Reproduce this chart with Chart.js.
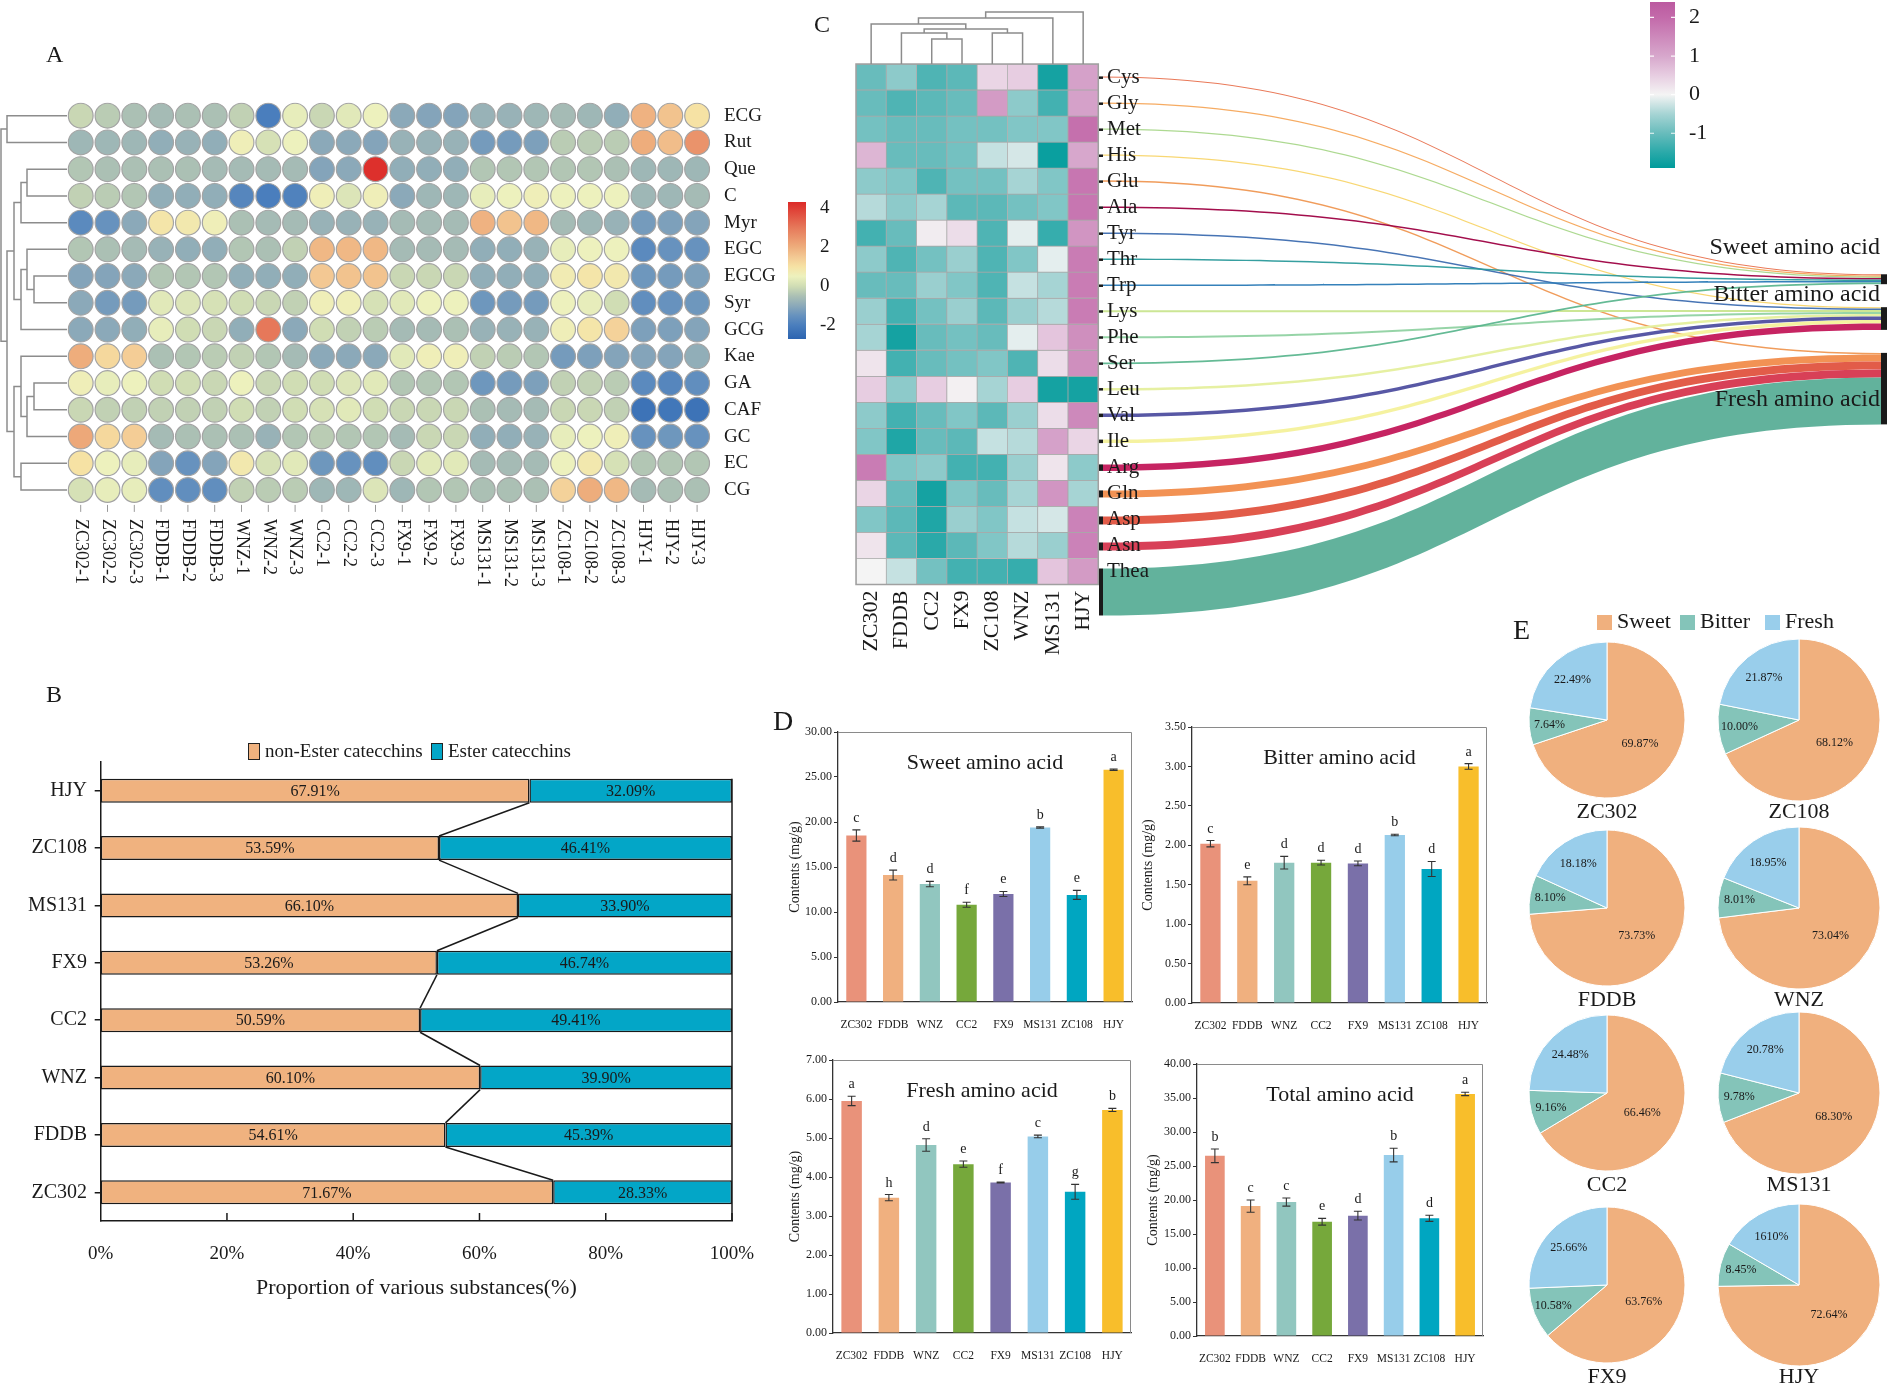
<!DOCTYPE html>
<html>
<head>
<meta charset="utf-8">
<title>Catechins and amino acids of eight tea cultivars</title>
<script src="https://cdn.jsdelivr.net/npm/chart.js@4.4.1/dist/chart.umd.min.js"></script>
<style>
  body { margin: 0; background: #fff; }
  #page { position: relative; width: 1887px; height: 1387px; overflow: hidden; background: #fff;
          font-family: 'Liberation Serif', 'Times New Roman', serif; color: #1a1a1a; }
  #page canvas { position: absolute; }
  .txt { position: absolute; white-space: nowrap; line-height: 1; }
  .key { position: absolute; box-sizing: border-box; }
</style>
</head>
<body>
<div id="page"></div>
<script>
// ---------- Panel A: catechins / flavonols (z-score per sample) ----------
const catechinSamples = ['ZC302-1', 'ZC302-2', 'ZC302-3', 'FDDB-1', 'FDDB-2', 'FDDB-3', 'WNZ-1', 'WNZ-2', 'WNZ-3',
    'CC2-1', 'CC2-2', 'CC2-3', 'FX9-1', 'FX9-2', 'FX9-3', 'MS131-1', 'MS131-2', 'MS131-3',
    'ZC108-1', 'ZC108-2', 'ZC108-3', 'HJY-1', 'HJY-2', 'HJY-3'];
const catechinNames = ['ECG', 'Rut', 'Que', 'C', 'Myr', 'EGC', 'EGCG', 'Syr', 'GCG', 'Kae', 'GA', 'CAF', 'GC', 'EC', 'CG'];
const zECG  = [-0.1, -0.3, -0.5, -0.6, -0.5, -0.5, -0.2, -2.0, 0.4, -0.1, 0.3, 0.5, -1.0, -1.1, -1.1, -0.8, -0.8, -0.7, -0.6, -0.7, -0.9, 1.9, 1.6, 1.0];
const zRut  = [-0.7, -0.7, -0.7, -0.9, -0.8, -0.9, 0.6, 0.1, 0.5, -1.0, -1.0, -1.1, -0.8, -0.8, -0.8, -1.3, -1.3, -1.2, -0.3, -0.3, -0.3, 2.0, 1.7, 2.5];
const zQue  = [-0.4, -0.5, -0.5, -0.5, -0.5, -0.6, -0.6, -0.6, -0.6, -1.1, -1.0, 4.2, -0.9, -0.9, -0.9, -0.4, -0.4, -0.4, -0.4, -0.4, -0.5, -0.7, -0.7, -0.7];
const zC    = [-0.2, -0.3, -0.4, -0.9, -0.9, -0.9, -1.8, -2.0, -1.9, 0.6, 0.2, 0.6, -1.0, -0.7, -0.7, 0.4, 0.5, 0.6, 0.5, 0.5, 0.5, -0.7, -0.7, -0.6];
const zMyr  = [-1.7, -1.5, -1.0, 0.9, 0.8, 0.6, -0.5, -0.6, -0.6, -0.8, -0.8, -0.8, -0.6, -0.6, -0.6, 1.9, 1.6, 1.8, -0.6, -0.7, -0.8, -1.3, -1.2, -1.1];
const zEGC  = [-0.4, -0.5, -0.6, -0.8, -0.9, -0.9, -0.4, -0.5, -0.2, 1.8, 1.8, 1.8, -0.6, -0.6, -0.6, -0.9, -0.9, -0.8, 0.4, 0.5, 0.5, -1.7, -1.5, -1.5];
const zEGCG = [-1.1, -1.1, -1.0, -0.4, -0.4, -0.4, -0.9, -0.9, -0.9, 1.5, 1.6, 1.6, -0.1, -0.1, -0.1, -0.9, -0.9, -0.9, 0.7, 0.9, 0.8, -1.4, -1.3, -1.2];
const zSyr  = [-1.0, -1.3, -1.3, 0.3, 0.2, 0.1, 0.0, -0.1, -0.2, 0.6, 0.6, 0.1, 0.3, 0.5, 0.5, -1.4, -1.3, -1.3, 0.5, 0.4, 0.0, -1.6, -1.5, -1.4];
const zGCG  = [-1.0, -1.0, -0.9, 0.4, 0.0, -0.1, -0.9, 3.0, -1.0, 0.0, -0.2, -0.3, -0.6, -0.6, -0.5, -0.8, -0.8, -0.8, 0.6, 0.9, 1.3, -1.2, -1.2, -1.1];
const zKae  = [2.0, 1.2, 1.4, -0.5, -0.4, -0.3, -0.2, -0.4, -0.6, -1.0, -1.0, -1.0, 0.3, 0.6, 0.6, -0.2, -0.3, -0.4, -1.3, -1.2, -1.1, -1.1, -1.1, -0.9];
const zGA   = [0.6, 0.4, 0.5, 0.0, 0.0, -0.1, 0.5, -0.1, 0.0, 0.0, 0.2, 0.3, -0.4, -0.4, -0.4, -1.4, -1.3, -1.2, -0.2, -0.2, -0.3, -1.7, -1.8, -1.6];
const zCAF  = [-0.1, -0.2, -0.2, -0.2, -0.2, -0.2, 0.0, -0.2, 0.0, 0.1, 0.3, 0.0, -0.1, -0.1, -0.1, -0.5, -0.6, -0.6, -0.1, -0.1, -0.2, -2.3, -2.2, -2.3];
const zGC   = [2.1, 1.2, 1.4, -0.6, -0.5, -0.5, -0.5, -0.8, -0.4, -0.3, -0.4, -0.4, -0.6, -0.1, -0.1, -0.9, -0.9, -0.8, 0.4, 0.5, 0.6, -1.5, -1.4, -1.5];
const zEC   = [1.0, 0.5, 0.4, -1.1, -1.5, -1.1, 0.8, 0.1, 0.3, -1.4, -1.5, -1.6, -0.1, 0.3, 0.3, -0.6, -0.6, -0.6, 0.5, 0.8, 0.1, -0.4, -0.4, -0.4];
const zCG   = [0.1, 0.4, 0.4, -1.6, -1.6, -1.6, -0.2, -0.3, -0.3, -0.7, -0.7, 0.2, -0.7, -0.4, -0.4, -0.5, -0.5, -0.5, 1.3, 2.0, 1.8, -0.6, -0.5, -0.5];
// row clustering: [child, child, height]; leaves are 0..14, new nodes numbered from 15
const catechinTree = [[0, 1, 60], [2, 3, 40], [16, 4, 46], [6, 7, 33], [5, 18, 40], [19, 8, 46], [17, 20, 53],
    [10, 11, 33], [22, 12, 40], [9, 23, 46], [13, 14, 46], [24, 25, 53], [21, 26, 60], [15, 27, 66]];
const colorbarTicksA = [-2, 0, 2, 4];

// ---------- Panel B: ester / non-ester catechin share ----------
const catechinCultivars = ['HJY', 'ZC108', 'MS131', 'FX9', 'CC2', 'WNZ', 'FDDB', 'ZC302'];
const nonEsterPct = [67.91, 53.59, 66.10, 53.26, 50.59, 60.10, 54.61, 71.67];
const esterPct = [32.09, 46.41, 33.90, 46.74, 49.41, 39.90, 45.39, 28.33];

// ---------- Panel C: amino acid heatmap (z-score) + taste sankey ----------
const aminoAcids = ['Cys', 'Gly', 'Met', 'His', 'Glu', 'Ala', 'Tyr', 'Thr', 'Trp', 'Lys', 'Phe', 'Ser', 'Leu', 'Val', 'Ile', 'Arg', 'Gln', 'Asp', 'Asn', 'Thea'];
const cultivarsC = ['ZC302', 'FDDB', 'CC2', 'FX9', 'ZC108', 'WNZ', 'MS131', 'HJY'];
const hmZC302 = [-1.0, -1.0, -0.9, 0.8, -0.7, -0.4, -1.3, -0.7, -1.0, -0.6, -0.5, 0.2, 0.5, -0.7, -0.8, 1.7, 0.4, -0.8, 0.2, 0.0];
const hmFDDB  = [-0.7, -1.2, -1.0, -1.0, -0.8, -0.7, -1.0, -1.2, -1.0, -1.3, -1.7, -1.3, -0.7, -1.3, -1.6, -0.8, -1.0, -1.1, -1.1, -0.3];
const hmCC2   = [-1.2, -1.1, -1.0, -1.0, -1.2, -0.5, 0.1, -0.9, -0.6, -0.9, -1.0, -1.0, 0.5, -1.0, -1.0, -0.7, -1.7, -1.6, -1.5, -0.9];
const hmFX9   = [-1.1, -1.0, -0.9, -0.9, -0.9, -1.1, 0.3, -0.6, -0.8, -0.6, -0.9, -0.9, 0.05, -0.8, -1.1, -1.3, -0.8, -0.6, -1.1, -1.3];
const hmZC108 = [0.4, 1.2, -0.9, -0.3, -0.9, -1.1, -1.2, -1.2, -1.2, -1.1, -1.0, -0.8, -0.5, -1.1, -0.3, -1.3, -1.0, -0.8, -0.8, -1.3];
const hmWNZ   = [0.5, -0.7, -0.8, -0.2, -0.5, -0.9, -0.1, -0.8, -0.3, -0.6, -0.1, -1.2, 0.5, -0.6, -0.4, -0.6, -0.5, -0.3, -0.4, -1.4];
const hmMS131 = [-1.7, -1.3, -0.8, -1.8, -0.8, -0.8, -1.4, -0.1, -0.5, -0.4, 0.6, 0.3, -1.7, 0.3, 1.1, 0.2, 1.3, -0.2, -0.6, 0.6];
const hmHJY   = [1.1, 1.1, 1.9, 1.0, 1.8, 1.8, 1.3, 1.7, 1.7, 1.7, 1.4, 1.4, -1.7, 1.5, 0.4, -0.7, -0.5, 1.6, 1.6, 1.2];
// column clustering: leaves 0..7, new nodes from 8
const cultivarTree = [[2, 3, 25], [1, 8, 31], [4, 5, 31], [9, 10, 35], [0, 11, 40], [12, 6, 46], [13, 7, 52]];
const colorbarTicksC = [-1, 0, 1, 2];
const tasteGroups = ['Sweet', 'Bitter', 'Fresh'];
const aaTaste = ['Sweet', 'Sweet', 'Sweet', 'Bitter', 'Fresh', 'Sweet', 'Bitter', 'Sweet', 'Sweet', 'Bitter',
    'Bitter', 'Sweet', 'Bitter', 'Bitter', 'Bitter', 'Bitter', 'Fresh', 'Fresh', 'Fresh', 'Fresh'];
const aaFlow = [1.2, 1.2, 1.2, 1.2, 1.5, 1.5, 1.5, 1.5, 1.5, 2, 2, 1.8, 2.5, 3.5, 3.5, 6.5, 7, 8, 8, 47];

// ---------- Panel D: taste amino acid contents (mg/g) ----------
const cultivarsD = ['ZC302', 'FDDB', 'WNZ', 'CC2', 'FX9', 'MS131', 'ZC108', 'HJY'];
const sweetMean = [18.5, 14.1, 13.1, 10.8, 12.0, 19.4, 11.9, 25.8];
const sweetErr = [0.63, 0.55, 0.3, 0.28, 0.28, 0.08, 0.5, 0.08];
const sweetSig = ['c', 'd', 'd', 'f', 'e', 'b', 'e', 'a'];
const bitterMean = [2.02, 1.55, 1.78, 1.78, 1.77, 2.13, 1.70, 3.00];
const bitterErr = [0.04, 0.05, 0.08, 0.03, 0.03, 0.01, 0.095, 0.035];
const bitterSig = ['c', 'e', 'd', 'd', 'd', 'b', 'd', 'a'];
const freshMean = [5.95, 3.47, 4.82, 4.33, 3.86, 5.04, 3.62, 5.72];
const freshErr = [0.12, 0.08, 0.16, 0.08, 0.01, 0.035, 0.19, 0.04];
const freshSig = ['a', 'h', 'd', 'e', 'f', 'c', 'g', 'b'];
const totalMean = [26.5, 19.1, 19.7, 16.8, 17.7, 26.6, 17.3, 35.6];
const totalErr = [1.0, 0.9, 0.6, 0.5, 0.65, 1.0, 0.45, 0.25];
const totalSig = ['b', 'c', 'c', 'e', 'd', 'b', 'd', 'a'];

// ---------- Panel E: taste composition (%) ----------
const pieCultivars = ['ZC302', 'ZC108', 'FDDB', 'WNZ', 'CC2', 'MS131', 'FX9', 'HJY'];
const pieSweet = [69.87, 68.12, 73.73, 73.04, 66.46, 68.30, 63.76, 72.64];
const pieBitter = [7.64, 10.00, 8.10, 8.01, 9.16, 9.78, 10.58, 8.45];
const pieFresh = [22.49, 21.87, 18.18, 18.95, 24.48, 20.78, 25.66, 16.10];

// ---------- styles ----------
const SERIF = "'Liberation Serif', 'Times New Roman', serif";
const INK = '#1a1a1a';
const rampA = [[-2.7, '#2c64b0'], [-2.0, '#4a7ebd'], [-1.5, '#6792be'], [-1.0, '#8ba9b9'], [-0.5, '#abc0b4'],
    [0.0, '#d0ddb4'], [0.5, '#edf1bd'], [1.0, '#f6e2a4'], [1.5, '#f3c893'], [2.0, '#eead7c'],
    [3.0, '#e6785a'], [4.3, '#dc2a28']];
const rampC = [[-1.9, '#009b9b'], [-1.5, '#2aa9a9'], [-1.0, '#68bcbc'], [-0.5, '#a6d4d4'], [0.0, '#f4f4f4'],
    [0.5, '#e7cde1'], [1.0, '#d7a7cc'], [2.0, '#c36aaa'], [2.4, '#bb5aa0']];
const aaColors = ['#e8714e', '#f6a75a', '#a9d78b', '#f8d56b', '#ef9752', '#9e0142', '#3d6db0', '#2b9a9b', '#2a7ab6', '#c9e58f',
    '#90d2a2', '#5cb68f', '#e5ef9d', '#4f4fa0', '#f4f19b', '#c3185a', '#f18c4b', '#e0533f', '#d6364e', '#5aae97'];
const barColorsD = ['#e9927a', '#f0b07f', '#91c6bf', '#76a83b', '#7a70a9', '#97cdea', '#00a6c1', '#f8be2b'];
const tasteColors = ['#f0b07e', '#84c4b9', '#99ceeb'];
const esterColors = ['#f0b27f', '#03a6c7'];

Chart.defaults.font.family = SERIF;
Chart.defaults.color = INK;

const page = document.getElementById('page');

function addText(text, left, top, size) {
    const d = document.createElement('div');
    d.className = 'txt';
    d.textContent = text;
    d.style.left = left + 'px';
    d.style.top = top + 'px';
    d.style.fontSize = size + 'px';
    page.appendChild(d);
}

function addKey(left, top, w, h, color, border) {
    const d = document.createElement('div');
    d.className = 'key';
    d.style.cssText += `left:${left}px;top:${top}px;width:${w}px;height:${h}px;background:${color};` +
        (border ? 'border:1px solid #222;' : '');
    page.appendChild(d);
}

function makeCanvas(left, top, width, height) {
    const c = document.createElement('canvas');
    c.width = width;
    c.height = height;
    c.style.left = left + 'px';
    c.style.top = top + 'px';
    c.style.width = width + 'px';
    c.style.height = height + 'px';
    page.appendChild(c);
    return c;
}

function baseOptions(padding) {
    return {
        responsive: false,
        animation: false,
        events: [],
        layout: { padding },
        plugins: { legend: { display: false }, tooltip: { enabled: false } }
    };
}

function hexToRgb(h) {
    const n = parseInt(h.slice(1), 16);
    return [(n >> 16) & 255, (n >> 8) & 255, n & 255];
}

function rampColor(stops, v) {
    if (v <= stops[0][0]) return stops[0][1];
    for (let i = 1; i < stops.length; i++) {
        if (v <= stops[i][0]) {
            const [v0, c0] = stops[i - 1];
            const [v1, c1] = stops[i];
            const t = (v - v0) / (v1 - v0);
            const a = hexToRgb(c0), b = hexToRgb(c1);
            return `rgb(${a.map((q, k) => Math.round(q + (b[k] - q) * t)).join(',')})`;
        }
    }
    return stops[stops.length - 1][1];
}

function gradientFor(chart, stops, min, max) {
    const { ctx, chartArea, scales } = chart;
    if (!chartArea) return null;
    const g = ctx.createLinearGradient(0, scales.y.getPixelForValue(min), 0, scales.y.getPixelForValue(max));
    stops.forEach(([v, c]) => {
        const t = (v - min) / (max - min);
        if (t >= 0 && t <= 1) g.addColorStop(t, c);
    });
    return g;
}

// U-shaped links of a dendrogram, positions in leaf units
function dendroLinks(tree, nLeaves) {
    const pos = [], hgt = [];
    for (let i = 0; i < nLeaves; i++) { pos[i] = i; hgt[i] = 0; }
    return tree.map(([a, b, h], k) => {
        const id = nLeaves + k;
        pos[id] = (pos[a] + pos[b]) / 2;
        hgt[id] = h;
        return [{ p: pos[a], h: hgt[a] }, { p: pos[a], h }, { p: pos[b], h }, { p: pos[b], h: hgt[b] }];
    });
}

function lineSets(links, toXY) {
    return links.map(pts => ({
        data: pts.map(toXY),
        showLine: true,
        borderColor: '#8c8c8c',
        borderWidth: 1.5,
        pointRadius: 0,
        fill: false
    }));
}

// the scale's own label padding is dropped so the bar fills the padded area exactly
function makeColorbar(canvas, stops, min, max, ticks, padding, axisW, size, tickMarks) {
    return new Chart(canvas, {
        type: 'bar',
        data: {
            labels: [''],
            datasets: [{
                data: [[min, max]],
                backgroundColor: c => gradientFor(c.chart, stops, min, max),
                borderWidth: 0,
                barPercentage: 1,
                categoryPercentage: 1
            }]
        },
        options: {
            ...baseOptions(padding),
            scales: {
                x: { display: false },
                y: {
                    position: 'right', min, max,
                    afterFit: s => { s.width = axisW; s.paddingTop = 0; s.paddingBottom = 0; },
                    afterBuildTicks: s => { s.ticks = ticks.map(v => ({ value: v })); },
                    grid: { display: false },
                    border: { display: false },
                    ticks: { font: { size }, color: INK, padding: 6 }
                }
            }
        },
        plugins: [{
            id: 'cbTicks',
            afterDatasetsDraw(chart) {
                if (!tickMarks) return;
                const { ctx, chartArea: a, scales: { y } } = chart;
                ctx.save();
                ctx.strokeStyle = 'rgba(255,255,255,0.9)';
                ctx.lineWidth = 1.2;
                ticks.forEach(v => {
                    const py = y.getPixelForValue(v);
                    ctx.beginPath();
                    ctx.moveTo(a.left, py); ctx.lineTo(a.left + 4, py);
                    ctx.moveTo(a.right - 4, py); ctx.lineTo(a.right, py);
                    ctx.stroke();
                });
                ctx.restore();
            }
        }]
    });
}

// ================= Panel A =================
const catechinZ = [zECG, zRut, zQue, zC, zMyr, zEGC, zEGCG, zSyr, zGCG, zKae, zGA, zCAF, zGC, zEC, zCG];
const bubblePoints = [];
catechinZ.forEach((row, r) => row.forEach((v, col) => bubblePoints.push({ x: col, y: r, v })));

new Chart(makeCanvas(0, 60, 800, 560), {
    type: 'bubble',
    data: {
        datasets: [{
            data: bubblePoints,
            radius: 12.4,
            backgroundColor: c => rampColor(rampA, c.raw.v),
            borderColor: '#a4a4a4',
            borderWidth: 1.2
        }]
    },
    options: {
        ...baseOptions({ left: 67.3, right: 89.5, top: 42.3, bottom: 116.6 }),
        scales: {
            x: { type: 'linear', min: -0.5, max: 23.5, display: false },
            y: { type: 'linear', min: -0.5, max: 14.5, reverse: true, display: false }
        }
    },
    plugins: [{
        id: 'labelsA',
        afterDatasetsDraw(chart) {
            const { ctx, chartArea: a, scales: { x, y } } = chart;
            ctx.save();
            ctx.fillStyle = INK;
            ctx.font = `19px ${SERIF}`;
            ctx.textAlign = 'left';
            ctx.textBaseline = 'middle';
            catechinNames.forEach((n, r) => ctx.fillText(n, a.right + 13.5, y.getPixelForValue(r)));
            ctx.strokeStyle = '#9a9a9a';
            ctx.lineWidth = 1;
            ctx.font = `18px ${SERIF}`;
            catechinSamples.forEach((s, i) => {
                const px = x.getPixelForValue(i);
                ctx.beginPath();
                ctx.moveTo(px, a.bottom + 1.5);
                ctx.lineTo(px, a.bottom + 8.5);
                ctx.stroke();
                ctx.save();
                ctx.translate(px, a.bottom + 15.5);
                ctx.rotate(Math.PI / 2);
                ctx.fillText(s, 0, 0);
                ctx.restore();
            });
            ctx.restore();
        }
    }]
});

new Chart(makeCanvas(0, 60, 68, 560), {
    type: 'scatter',
    data: { datasets: lineSets(dendroLinks(catechinTree, catechinNames.length), q => ({ x: q.h, y: q.p })) },
    options: {
        ...baseOptions({ left: 0, right: 1, top: 42.3, bottom: 116.6 }),
        scales: {
            x: { type: 'linear', min: 0, max: 67, reverse: true, display: false },
            y: { type: 'linear', min: -0.5, max: 14.5, reverse: true, display: false }
        }
    }
});

makeColorbar(makeCanvas(788, 182, 50, 177), rampA, -2.7, 4.3, colorbarTicksA,
    { top: 20, bottom: 20, left: 0, right: 0 }, 32, 19, false);

// ================= Panel B =================
new Chart(makeCanvas(0, 740, 770, 585), {
    type: 'bar',
    data: {
        labels: catechinCultivars,
        datasets: [
            { label: 'non-Ester catecchins', data: nonEsterPct },
            { label: 'Ester catecchins', data: esterPct }
        ].map((d, k) => ({
            ...d,
            backgroundColor: esterColors[k],
            borderColor: INK,
            borderWidth: 1.5,
            borderSkipped: false,
            barPercentage: 0.42,
            categoryPercentage: 1
        }))
    },
    options: {
        ...baseOptions({ top: 22, right: 38, left: 0, bottom: 0 }),
        indexAxis: 'y',
        scales: {
            x: {
                stacked: true, min: 0, max: 100,
                ticks: { stepSize: 20, callback: v => v + '%', font: { size: 19 }, color: INK, padding: 14 },
                grid: { display: false },
                border: { display: true, color: INK, width: 1.5 },
                title: { display: true, text: 'Proportion of various substances(%)', font: { size: 22 }, color: INK, padding: { top: 0, bottom: 24 } },
                afterFit: s => { s.height = 104; }
            },
            y: {
                stacked: true,
                ticks: { font: { size: 20 }, color: INK, padding: 7.7 },
                grid: { display: true, drawOnChartArea: false, drawTicks: true, tickLength: 6, offset: false, color: INK, lineWidth: 1.5 },
                border: { display: true, color: INK, width: 1.5 },
                afterFit: s => { s.width = 100.7; }
            }
        }
    },
    plugins: [{
        id: 'bExtras',
        afterDatasetsDraw(chart) {
            const { ctx, chartArea: a, scales: { x } } = chart;
            const m0 = chart.getDatasetMeta(0).data;
            const m1 = chart.getDatasetMeta(1).data;
            ctx.save();
            ctx.strokeStyle = INK;
            ctx.lineWidth = 1.5;
            for (let i = 0; i < m0.length - 1; i++) {
                const b = m0[i], n = m0[i + 1];
                ctx.beginPath();
                ctx.moveTo(b.x, b.y + b.height / 2);
                ctx.lineTo(n.x, n.y - n.height / 2);
                ctx.stroke();
            }
            const xr = x.getPixelForValue(100);
            ctx.beginPath();
            ctx.moveTo(xr, m0[0].y - m0[0].height / 2);
            ctx.lineTo(xr, a.bottom);
            ctx.stroke();
            [20, 40, 60, 80, 100].forEach(v => {
                const px = x.getPixelForValue(v);
                ctx.beginPath();
                ctx.moveTo(px, a.bottom);
                ctx.lineTo(px, a.bottom - 8);
                ctx.stroke();
            });
            ctx.fillStyle = INK;
            ctx.font = `16px ${SERIF}`;
            ctx.textAlign = 'center';
            ctx.textBaseline = 'middle';
            [[m0, nonEsterPct], [m1, esterPct]].forEach(([meta, vals]) => {
                meta.forEach((el, i) => ctx.fillText(vals[i].toFixed(2) + '%', (el.x + el.base) / 2, el.y + 1));
            });
            ctx.restore();
        }
    }]
});

addKey(248, 743, 12, 17, esterColors[0], true);
addText('non-Ester catecchins', 265, 741, 19);
addKey(431, 743, 12, 17, esterColors[1], true);
addText('Ester catecchins', 448, 741, 19);

// ================= Panel C =================
const hmColumns = [hmZC302, hmFDDB, hmCC2, hmFX9, hmZC108, hmWNZ, hmMS131, hmHJY];

new Chart(makeCanvas(840, 0, 270, 690), {
    type: 'bar',
    data: {
        labels: cultivarsC,
        datasets: aminoAcids.map((aa, r) => ({
            label: aa,
            data: cultivarsC.map(() => 1),
            backgroundColor: hmColumns.map(col => rampColor(rampC, col[r])),
            borderColor: '#a9a9a9',
            borderWidth: 0.75,
            borderSkipped: false,
            barPercentage: 1,
            categoryPercentage: 1
        }))
    },
    options: {
        ...baseOptions({ left: 16, right: 11.7, top: 64, bottom: 105.5 }),
        scales: {
            x: { stacked: true, display: false },
            y: { stacked: true, min: 0, max: 20, reverse: true, display: false }
        }
    },
    plugins: [{
        id: 'labelsC',
        afterDatasetsDraw(chart) {
            const { ctx, chartArea: a, scales: { x } } = chart;
            ctx.save();
            ctx.strokeStyle = '#a0a0a0';
            ctx.lineWidth = 1.5;
            ctx.strokeRect(a.left, a.top, a.right - a.left, a.bottom - a.top);
            ctx.fillStyle = INK;
            ctx.font = `22px ${SERIF}`;
            ctx.textAlign = 'right';
            ctx.textBaseline = 'middle';
            cultivarsC.forEach((c, i) => {
                ctx.save();
                ctx.translate(x.getPixelForValue(i), a.bottom + 6);
                ctx.rotate(-Math.PI / 2);
                ctx.fillText(c, 0, 0);
                ctx.restore();
            });
            ctx.restore();
        }
    }]
});

new Chart(makeCanvas(840, 0, 270, 66), {
    type: 'scatter',
    data: { datasets: lineSets(dendroLinks(cultivarTree, cultivarsC.length), q => ({ x: q.p, y: q.h })) },
    options: {
        ...baseOptions({ left: 16, right: 11.7, top: 0, bottom: 2 }),
        scales: {
            x: { type: 'linear', min: -0.5, max: 7.5, display: false },
            y: { type: 'linear', min: 0, max: 64, display: false }
        }
    }
});

// sankey: rows share the heatmap y scale, right column stacks the three taste groups
const sankeyRightTop = 8.08;   // in heatmap row units
const sankeyGap = 23;          // px between taste nodes
const groupLabelDy = [-27, -12, 47];
new Chart(makeCanvas(1098, 0, 789, 690), {
    type: 'scatter',
    data: { datasets: [{ data: [] }] },
    options: {
        ...baseOptions({ left: 5, right: 6, top: 64, bottom: 105.5 }),
        scales: {
            x: { type: 'linear', min: 0, max: 1, display: false },
            y: { type: 'linear', min: 0, max: 20, reverse: true, display: false }
        }
    },
    plugins: [{
        id: 'sankey',
        afterDatasetsDraw(chart) {
            const { ctx, scales: { x, y } } = chart;
            const xl = x.getPixelForValue(0), xr = x.getPixelForValue(1), xm = (xl + xr) / 2;
            const totals = tasteGroups.map(g => aaFlow.reduce((s, w, i) => s + (aaTaste[i] === g ? w : 0), 0));
            const tops = [];
            let cur = y.getPixelForValue(sankeyRightTop);
            totals.forEach((t, g) => { tops[g] = cur; cur += t + sankeyGap; });
            const fillTo = tops.slice();
            ctx.save();
            aminoAcids.forEach((aa, i) => {
                const w = aaFlow[i];
                const g = tasteGroups.indexOf(aaTaste[i]);
                const yc = y.getPixelForValue(i + 0.5);
                const l0 = yc - Math.min(w, 6) / 2, l1 = l0 + w;
                const r0 = fillTo[g], r1 = r0 + w;
                fillTo[g] = r1;
                ctx.globalAlpha = 0.95;
                ctx.fillStyle = aaColors[i];
                ctx.beginPath();
                ctx.moveTo(xl, l0);
                ctx.bezierCurveTo(xm, l0, xm, r0, xr, r0);
                ctx.lineTo(xr, r1);
                ctx.bezierCurveTo(xm, r1, xm, l1, xl, l1);
                ctx.closePath();
                ctx.fill();
                ctx.globalAlpha = 1;
                ctx.fillStyle = INK;
                ctx.fillRect(xl - 4, l0, 4, Math.max(w, 2.5));
            });
            ctx.fillStyle = INK;
            tops.forEach((t, g) => ctx.fillRect(xr, t, 6, totals[g]));
            ctx.font = `21px ${SERIF}`;
            ctx.textAlign = 'left';
            ctx.textBaseline = 'middle';
            aminoAcids.forEach((aa, i) => ctx.fillText(aa, xl + 4, y.getPixelForValue(i + 0.5)));
            ctx.font = `24px ${SERIF}`;
            ctx.textAlign = 'right';
            tasteGroups.forEach((g, k) => ctx.fillText(g + ' amino acid', xr - 1, tops[k] + groupLabelDy[k]));
            ctx.restore();
        }
    }]
});

makeColorbar(makeCanvas(1650, 0, 60, 172), rampC, -1.9, 2.4, colorbarTicksC,
    { top: 2, bottom: 4, left: 0, right: 0 }, 35, 22, true);

// ================= Panel D =================
function aminoPlugin(title, means, errs, sig) {
    return {
        id: 'aminoExtras',
        afterDatasetsDraw(chart) {
            const { ctx, chartArea: a, scales: { y } } = chart;
            const bars = chart.getDatasetMeta(0).data;
            ctx.save();
            ctx.strokeStyle = '#8a8a8a';
            ctx.lineWidth = 1;
            ctx.beginPath();
            ctx.moveTo(a.left, a.top + 0.5);
            ctx.lineTo(a.right - 0.5, a.top + 0.5);
            ctx.lineTo(a.right - 0.5, a.bottom);
            ctx.stroke();
            ctx.strokeStyle = '#333';
            ctx.lineWidth = 1.1;
            ctx.fillStyle = INK;
            ctx.font = `14px ${SERIF}`;
            ctx.textAlign = 'center';
            ctx.textBaseline = 'alphabetic';
            bars.forEach((bar, i) => {
                const hi = y.getPixelForValue(means[i] + errs[i]);
                const lo = y.getPixelForValue(means[i] - errs[i]);
                ctx.beginPath();
                ctx.moveTo(bar.x, hi); ctx.lineTo(bar.x, lo);
                ctx.moveTo(bar.x - 4, hi); ctx.lineTo(bar.x + 4, hi);
                ctx.moveTo(bar.x - 4, lo); ctx.lineTo(bar.x + 4, lo);
                ctx.stroke();
                ctx.fillText(sig[i], bar.x, hi - 8);
            });
            ctx.font = `22px ${SERIF}`;
            ctx.textBaseline = 'middle';
            ctx.fillText(title, (a.left + a.right) / 2, a.top + 31);
            ctx.restore();
        }
    };
}

function makeAminoChart(box, title, means, errs, sig, yMax, yStep) {
    return new Chart(makeCanvas(box.left, box.top, box.width, box.height), {
        type: 'bar',
        data: {
            labels: cultivarsD,
            datasets: [{ data: means, backgroundColor: barColorsD, barPercentage: 0.55, categoryPercentage: 1 }]
        },
        options: {
            ...baseOptions({ top: 10, right: 8, left: 0, bottom: 0 }),
            scales: {
                x: {
                    grid: { display: false },
                    border: { color: '#333', width: 1.3 },
                    ticks: { font: { size: 11.5 }, color: INK, padding: 8, autoSkip: false, maxRotation: 0 },
                    afterFit: s => { s.height = 30; }
                },
                y: {
                    min: 0, max: yMax,
                    ticks: { stepSize: yStep, callback: v => v.toFixed(2), font: { size: 12 }, color: INK, padding: 2 },
                    grid: { drawOnChartArea: false, tickLength: 4, color: '#333' },
                    border: { color: '#333', width: 1.3 },
                    title: { display: true, text: 'Contents (mg/g)', font: { size: 14 }, color: INK, padding: { top: 0, bottom: 0 } },
                    afterFit: s => { s.width = box.axisW; }
                }
            }
        },
        plugins: [aminoPlugin(title, means, errs, sig)]
    });
}

makeAminoChart({ left: 787, top: 722, width: 353, height: 310, axisW: 51 }, 'Sweet amino acid', sweetMean, sweetErr, sweetSig, 30, 5);
makeAminoChart({ left: 1140, top: 717, width: 355, height: 316, axisW: 52 }, 'Bitter amino acid', bitterMean, bitterErr, bitterSig, 3.5, 0.5);
makeAminoChart({ left: 787, top: 1050, width: 352, height: 313, axisW: 46 }, 'Fresh amino acid', freshMean, freshErr, freshSig, 7, 1);
makeAminoChart({ left: 1145, top: 1054, width: 346, height: 312, axisW: 52 }, 'Total amino acid', totalMean, totalErr, totalSig, 40, 5);

// ================= Panel E =================
const pieSweetLabel = pieSweet.map(v => v.toFixed(2) + '%');
const pieBitterLabel = pieBitter.map(v => v.toFixed(2) + '%');
const pieFreshLabel = pieFresh.map(v => v.toFixed(2) + '%');
pieFreshLabel[7] = '1610%'; // printed this way in the original figure
const pieColX = [1607, 1799];
const pieRowY = [720, 908, 1093, 1285];
const pieRadius = [78, 81];
const pieLabelR = [0.52, 0.74, 0.68];

pieCultivars.forEach((name, i) => {
    const cx = pieColX[i % 2], cy = pieRowY[Math.floor(i / 2)], r = pieRadius[i % 2];
    const texts = [pieSweetLabel[i], pieBitterLabel[i], pieFreshLabel[i]];
    new Chart(makeCanvas(cx - 90, cy - 90, 180, 200), {
        type: 'pie',
        data: {
            labels: tasteGroups,
            datasets: [{
                data: [pieSweet[i], pieBitter[i], pieFresh[i]],
                backgroundColor: tasteColors,
                borderColor: '#ffffff',
                borderWidth: 1,
                radius: r
            }]
        },
        options: { ...baseOptions({ top: 0, bottom: 20, left: 0, right: 0 }), radius: r },
        plugins: [{
            id: 'pieText',
            afterDatasetsDraw(chart) {
                const { ctx } = chart;
                const arcs = chart.getDatasetMeta(0).data;
                ctx.save();
                ctx.fillStyle = INK;
                ctx.font = `12px ${SERIF}`;
                ctx.textAlign = 'center';
                ctx.textBaseline = 'middle';
                arcs.forEach((arc, k) => {
                    const mid = (arc.startAngle + arc.endAngle) / 2;
                    const rr = arc.outerRadius * pieLabelR[k];
                    ctx.fillText(texts[k], arc.x + Math.cos(mid) * rr, arc.y + Math.sin(mid) * rr);
                });
                ctx.font = `22px ${SERIF}`;
                ctx.fillText(name, arcs[0].x, arcs[0].y + 92);
                ctx.restore();
            }
        }]
    });
});

const tasteKeyX = [1597, 1680, 1765];
tasteGroups.forEach((g, k) => {
    addKey(tasteKeyX[k], 615, 15, 15, tasteColors[k], false);
    addText(g, tasteKeyX[k] + 20, 610, 22);
});

// panel letters
addText('A', 46, 42, 24);
addText('B', 46, 682, 24);
addText('C', 814, 12, 24);
addText('D', 773, 707, 28);
addText('E', 1513, 616, 28);
</script>
</body>
</html>
